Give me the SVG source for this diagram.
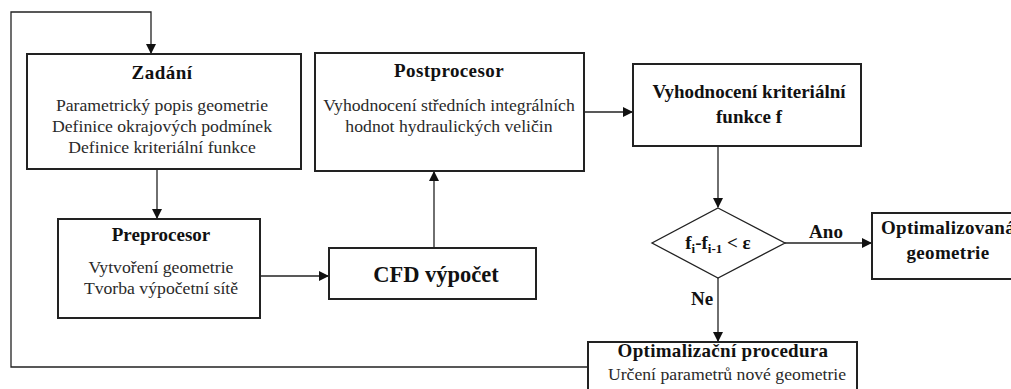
<svg xmlns="http://www.w3.org/2000/svg" width="1011" height="389" viewBox="0 0 1011 389">
<defs>
<style>
.box{fill:#fff;stroke:#222;stroke-width:2}
.ln{fill:none;stroke:#222;stroke-width:1.3}
.t{font-family:'Liberation Serif',serif;font-size:17.7px;fill:#2a2a2a;text-anchor:middle}
.b{font-family:'Liberation Serif',serif;font-size:19px;font-weight:bold;fill:#111;text-anchor:middle}
</style>
<marker id="ar" markerWidth="10" markerHeight="10" refX="9" refY="5" orient="auto" markerUnits="userSpaceOnUse">
<path d="M0,0 L10,5 L0,10 Z" fill="#111"/>
</marker>
</defs>
<rect width="1011" height="389" fill="#fff"/>
<g id="connectors">
<polyline class="ln" points="588,367 11,367 11,12 151,12 151,53" marker-end="url(#ar)"/>
<line class="ln" x1="157" y1="169" x2="157" y2="218" marker-end="url(#ar)"/>
<line class="ln" x1="260" y1="276" x2="328" y2="276" marker-end="url(#ar)"/>
<line class="ln" x1="434" y1="248" x2="434" y2="172" marker-end="url(#ar)"/>
<line class="ln" x1="584" y1="112" x2="632" y2="112" marker-end="url(#ar)"/>
<line class="ln" x1="718" y1="146" x2="718" y2="207" marker-end="url(#ar)"/>
<line class="ln" x1="785" y1="243" x2="871" y2="243" marker-end="url(#ar)"/>
<line class="ln" x1="718" y1="278" x2="718" y2="341" marker-end="url(#ar)"/>
<text class="b" x="826" y="238">Ano</text>
<text class="b" x="702" y="305">Ne</text>
</g>
<g id="zadani">
<rect class="box" x="27" y="54" width="274" height="115"/>
<text class="b" x="162" y="79" letter-spacing="0.5">Zadání</text>
<text class="t" x="162" y="111">Parametrický popis geometrie</text>
<text class="t" x="162" y="132">Definice okrajových podmínek</text>
<text class="t" x="162" y="153">Definice kriteriální funkce</text>
</g>
<g id="preprocesor">
<rect class="box" x="58" y="219" width="202" height="99"/>
<text class="b" x="161" y="241">Preprocesor</text>
<text class="t" x="161" y="273">Vytvoření geometrie</text>
<text class="t" x="161" y="294">Tvorba výpočetní sítě</text>
</g>
<g id="cfd">
<rect class="box" x="329" y="248" width="207" height="51"/>
<text class="b" style="font-size:22.5px" x="436" y="282">CFD výpočet</text>
</g>
<g id="postprocesor">
<rect class="box" x="315" y="53" width="269" height="118"/>
<text class="b" x="449" y="77" letter-spacing="0.4">Postprocesor</text>
<text class="t" x="449" y="111">Vyhodnocení středních integrálních</text>
<text class="t" x="449" y="132">hodnot hydraulických veličin</text>
</g>
<g id="vyhodnoceni">
<rect class="box" x="633" y="64" width="228" height="82"/>
<text class="b" x="749" y="98">Vyhodnocení kriteriální</text>
<text class="b" x="749" y="123">funkce f</text>
</g>
<g id="podminka">
<polygon class="ln" points="718,208 785,243 718,278 652,243" style="fill:#fff"/>
<text class="b" x="718" y="249">f<tspan dy="4" style="font-size:13px">i</tspan><tspan dy="-4">-f</tspan><tspan dy="4" style="font-size:13px">i-1</tspan><tspan dy="-4"> &lt; ε</tspan></text>
</g>
<g id="optimalizovana">
<rect class="box" x="872" y="213" width="152" height="66"/>
<text class="b" x="948" y="234" letter-spacing="0.3">Optimalizovaná</text>
<text class="b" x="948" y="259" letter-spacing="0.3">geometrie</text>
</g>
<g id="procedura">
<rect class="box" x="588" y="342" width="269" height="60"/>
<text class="b" x="723" y="357" letter-spacing="0.3">Optimalizační procedura</text>
<text class="t" x="727" y="380">Určení parametrů nové geometrie</text>
</g>
</svg>
